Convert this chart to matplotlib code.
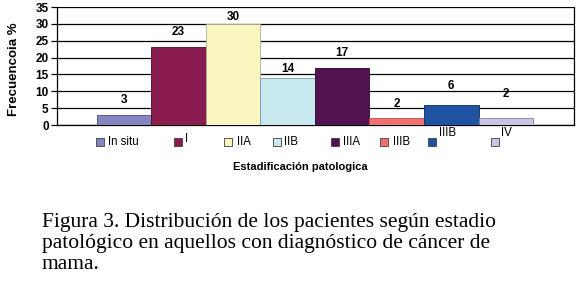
import matplotlib
matplotlib.use("Agg")
import matplotlib.pyplot as plt
from matplotlib.patches import Rectangle

categories = ["In situ", "I", "IIA", "IIB", "IIIA", "IIIB", "IIIB", "IV"]
values = [3, 23, 30, 14, 17, 2, 6, 2]
colors = ["#8585c0", "#8b1c50", "#faf6c0", "#c8e8f0", "#521450", "#f07070", "#1f52a0", "#c8c4e4"]
edgecols = ["#4a4a80", "#4a0a28", "#b0b0a0", "#7a9aa8", "#2a0828", "#c05050", "#0a2a60", "#8080a0"]
label_offsets_px = [15, 15, 7, 9, 15, 14, 19, 24]
yticks = [0, 5, 10, 15, 20, 25, 30, 35]

W, H = 576, 286
fig = plt.figure(figsize=(W / 100, H / 100), dpi=100)
fig.patch.set_facecolor("white")

ax = fig.add_axes([57 / W, 1 - 125 / H, (574 - 57) / W, (125 - 7) / H])
x = list(range(len(values)))
ax.bar(x, values, width=1.0, color=colors, edgecolor=edgecols, linewidth=0.6, zorder=3)
ax.set_xlim(-1.23, 8.25)
ax.set_ylim(0, 35)
ax.set_yticks(yticks)
ax.set_yticklabels([str(t) for t in yticks], fontsize=8.5, fontweight="bold",
                   family="Liberation Sans")
ax.set_xticks([])
ax.yaxis.grid(True, color="black", linewidth=0.9, zorder=0)
ax.set_axisbelow(True)
ax.spines["top"].set_visible(False)
for s in ["left", "bottom", "right"]:
    ax.spines[s].set_linewidth(0.9)
ax.tick_params(axis="y", length=4, width=0.9, pad=2)
ax.set_ylabel("Frecuencoia %", fontsize=9.5, fontweight="bold", family="Liberation Sans")
ax.yaxis.set_label_coords(-(57 - 20) / (574 - 57), 0.47)

for xi, v, off in zip(x, values, label_offsets_px):
    ax.annotate(str(v), (xi, v), xytext=(0, off), textcoords="offset pixels",
                ha="center", va="center", fontsize=8.5, fontweight="bold",
                family="Liberation Sans")

# legend (irregular layout, as in the reference)
sq_x = [96, 174, 224, 273, 331, 380, 428, 491]
txt_x = [108, 185, 237, 284, 343, 393, 439, 501]
txt_y = [142, 139, 142, 142, 142, 142, 133, 133]
sq = 8
for c, sx, tx, ty, lab in zip(colors, sq_x, txt_x, txt_y, categories):
    fig.patches.append(Rectangle((sx / W, 1 - (142 + sq / 2) / H), sq / W, sq / H,
                                 transform=fig.transFigure, facecolor=c,
                                 edgecolor="#404040", linewidth=0.6))
    fig.text(tx / W, 1 - ty / H, lab, fontsize=8.3, family="Liberation Sans",
             ha="left", va="center")

fig.text(300 / W, 1 - 167 / H, "Estadificación patologica", fontsize=8, fontweight="bold",
         family="Liberation Sans", ha="center", va="center")

caption = ("Figura 3. Distribución de los pacientes según estadio\n"
           "patológico en aquellos con diagnóstico de cáncer de\n"
           "mama.")
fig.text(42 / W, 1 - 213 / H, caption, fontsize=15.5, family="Liberation Serif",
         ha="left", va="top", linespacing=1.13)

fig.savefig("out.png", dpi=100)
